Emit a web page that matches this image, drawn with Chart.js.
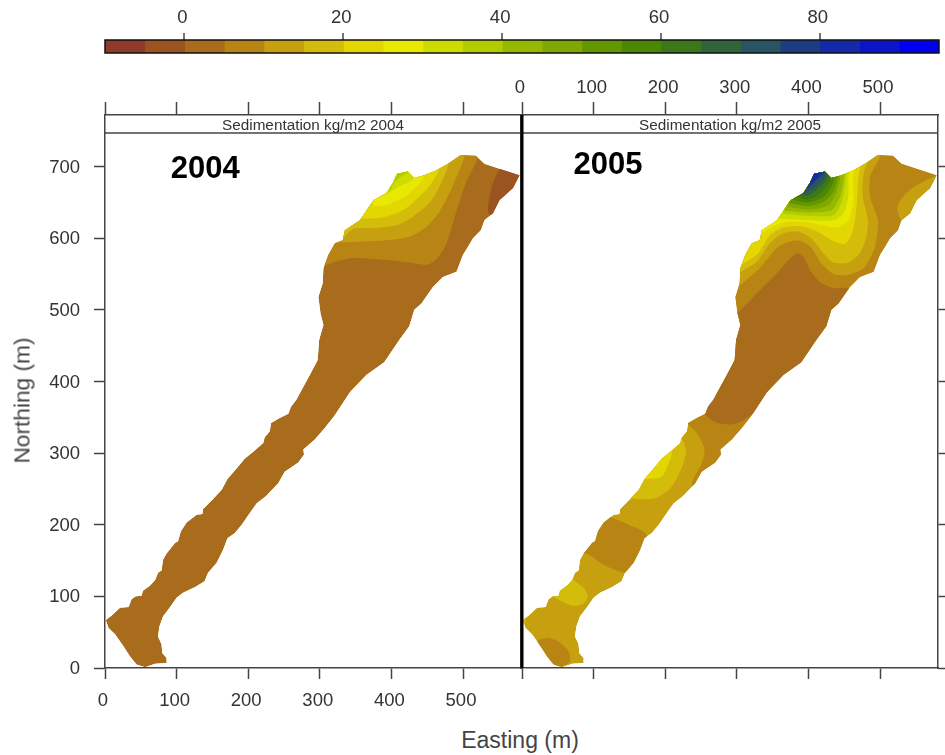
<!DOCTYPE html>
<html>
<head>
<meta charset="utf-8">
<script src="https://cdn.jsdelivr.net/npm/chart.js@4"></script>
<style>
    body { margin: 0; background: #fff; width: 945px; height: 755px; overflow: hidden; position: relative; }
    canvas { position: absolute; }
    #eastingTitle { position: absolute; left: 420px; width: 200px; top: 727px; text-align: center; font: 23px "Liberation Sans"; color: #444; }
    #northingTitle { position: absolute; left: -78px; width: 200px; top: 387px; text-align: center; font: 22.7px "Liberation Sans"; color: #444; transform: rotate(-90deg); }
</style>
</head>
<body>
<canvas id="colorBar" width="945" height="60" style="left:0;top:0"></canvas>
<canvas id="panel2004" width="530" height="658" style="left:0;top:60px"></canvas>
<canvas id="panel2005" width="445" height="658" style="left:500px;top:60px"></canvas>
<div id="northingTitle">Northing (m)</div>
<div id="eastingTitle">Easting (m)</div>
<script>
const eastingTicks = [0, 100, 200, 300, 400, 500];
const northingTicks = [0, 100, 200, 300, 400, 500, 600, 700];
const colorTicks = [0, 20, 40, 60, 80];
const colorLevels = [-10, -5, 0, 5, 10, 15, 20, 25, 30, 35, 40, 45, 50, 55, 60, 65, 70, 75, 80, 85, 90, 95];
const colorSteps = ['#8f3a2a', '#9b5420', '#a86c1c', '#b88514', '#c6a00f', '#d4bc0a', '#e4d600', '#e8e800',
    '#cddc00', '#b2cc00', '#96b800', '#80a800', '#649600', '#4b8700', '#3c7819', '#32643c',
    '#285564', '#1e3c82', '#1428aa', '#0a14c8', '#0000f0'];

// lake outline, easting / northing in metres
const lakeOutline = [[1, 67], [9, 73], [21, 84], [33, 85], [37, 96], [43, 100], [51, 101], [53, 108], [63, 115], [70, 123],
    [74, 133], [79, 136], [81, 151], [86, 160], [98, 175], [102, 177], [106, 191], [114, 203], [128, 214], [136, 215],
    [137, 222], [149, 234], [163, 249], [171, 264], [184, 279], [195, 292], [207, 302], [221, 314], [223, 322], [230, 330],
    [232, 342], [244, 349], [256, 355], [260, 365], [267, 374], [286, 409], [297, 430], [299, 458], [305, 479], [301, 495],
    [298, 518], [304, 537], [305, 558], [312, 577], [321, 593], [332, 597], [335, 611], [356, 625], [375, 653], [393, 663],
    [402, 677], [408, 690], [423, 693], [432, 684], [446, 688], [463, 695], [479, 704], [497, 716], [518, 715], [530, 704],
    [551, 697], [579, 688], [570, 670], [551, 653], [542, 635], [530, 625], [525, 611], [514, 600], [507, 588], [500, 577],
    [491, 553], [472, 546], [458, 532], [442, 509], [432, 500], [425, 477], [411, 458], [390, 427], [365, 409], [342, 385],
    [321, 353], [307, 335], [293, 319], [277, 305], [278, 298], [270, 287], [251, 274], [242, 258], [225, 240], [212, 230],
    [202, 216], [191, 200], [181, 188], [171, 181], [165, 165], [156, 147], [144, 133], [139, 121], [126, 113], [109, 105],
    [100, 98], [91, 85], [81, 72], [76, 58], [74, 44], [79, 33], [80, 21], [86, 14], [86, 7], [70, 6],
    [56, 1], [44, 5], [35, 16], [26, 30], [14, 47], [5, 56]];

// contour bands: colour step, then the contour line closed round the outside of the lake
const base2004 = 2;
const bands2004 = [
    [3, [[300, 560], [342, 572], [388, 570], [425, 566], [451, 563], [465, 573], [477, 593], [490, 635], [504, 677], [521, 714], [518, 737], [318, 737]]],
    [4, [[321, 594], [356, 595], [393, 597], [425, 602], [449, 616], [467, 637], [481, 663], [495, 695], [502, 714], [504, 737], [318, 737]]],
    [5, [[331, 598], [346, 613], [374, 614], [407, 618], [430, 630], [453, 649], [467, 672], [477, 695], [481, 707], [490, 737], [318, 737]]],
    [6, [[358, 627], [388, 629], [416, 639], [439, 658], [456, 677], [467, 697], [477, 737], [340, 737]]],
    [7, [[375, 645], [393, 646], [416, 656], [435, 672], [446, 688], [453, 737], [340, 737]]],
    [8, [[386, 658], [411, 672], [432, 684], [449, 737], [340, 737]]],
    [9, [[398, 665], [404, 678], [416, 688], [428, 695], [420, 710], [395, 710]]],
    [1, [[550, 696], [542, 677], [537, 658], [536, 634], [560, 625], [581, 667], [581, 704]]]
];

const base2005 = 4;
const bands2005 = [
    [5, [[0, 60], [5, 63], [5, 72], [0, 76]]],
    [3, [[19, 16], [21, 37], [35, 42], [51, 37], [65, 23], [67, 9], [51, 0]]],
    [5, [[42, 100], [70, 87], [86, 90], [92, 100], [86, 112], [72, 123], [60, 133], [37, 109]]],
    [3, [[79, 156], [90, 160], [116, 143], [144, 133], [163, 142], [174, 186], [149, 200], [123, 211], [112, 216], [84, 179]]],
    [5, [[144, 244], [151, 237], [186, 237], [209, 253], [225, 284], [229, 305], [221, 323], [200, 328]]],
    [6, [[167, 267], [174, 264], [195, 267], [204, 284], [209, 302], [195, 305]]],
    [3, [[222, 350], [230, 342], [244, 328], [255, 305], [251, 286], [237, 256], [251, 244], [293, 295], [345, 340], [580, 640], [580, 737], [300, 737], [240, 380]]],
    [2, [[245, 365], [253, 356], [270, 343], [293, 340], [311, 347], [330, 360], [360, 370], [470, 510], [456, 530], [437, 530], [416, 539], [402, 556], [393, 574], [384, 579], [370, 567], [356, 551], [323, 518], [302, 497], [280, 490], [240, 370]]],
    [4, [[579, 688], [551, 674], [532, 658], [524, 642], [530, 625], [546, 616], [581, 667]]],
    [4, [[302, 532], [332, 558], [358, 588], [384, 597], [402, 589], [418, 565], [435, 550], [456, 549], [477, 558], [493, 588], [497, 625], [486, 658], [486, 686], [493, 700], [500, 714], [504, 737], [320, 737], [285, 540]]],
    [5, [[306, 553], [328, 567], [346, 593], [365, 607], [386, 609], [404, 600], [421, 579], [435, 566], [456, 566], [472, 579], [481, 602], [483, 625], [476, 658], [476, 681], [479, 697], [483, 707], [490, 737], [320, 737], [290, 553]]],
    [6, [[307, 563], [330, 579], [346, 604], [365, 615], [388, 617], [411, 610], [437, 595], [451, 592], [460, 604], [465, 625], [468, 653], [469, 679], [472, 697], [477, 737], [320, 737], [290, 563]]],
    [7, [[337, 608], [360, 621], [393, 623], [421, 618], [439, 615], [456, 625], [463, 653], [462, 677], [464, 695], [467, 737], [320, 737], [320, 600]]],
    [8, [[358, 627], [398, 625], [435, 625], [449, 635], [456, 660], [456, 686], [458, 694], [463, 737], [340, 737]]],
    [9, [[365, 634], [402, 631], [435, 632], [446, 649], [451, 672], [453, 690], [458, 737], [340, 737]]],
    [10, [[367, 638], [402, 636], [432, 639], [444, 658], [449, 679], [450, 690], [455, 737], [340, 737]]],
    [11, [[370, 644], [402, 640], [428, 646], [439, 663], [444, 679], [445, 690], [450, 737], [340, 737]]],
    [12, [[372, 649], [400, 645], [423, 652], [436, 667], [442, 688], [447, 737], [340, 737]]],
    [13, [[377, 654], [397, 650], [420, 657], [432, 672], [437, 687], [442, 737], [340, 737]]],
    [14, [[381, 659], [397, 654], [415, 661], [428, 677], [432, 687], [437, 737], [340, 737]]],
    [15, [[385, 663], [397, 659], [411, 667], [424, 679], [429, 691], [434, 737], [340, 737]]],
    [16, [[388, 665], [395, 663], [409, 672], [421, 682], [426, 693], [431, 737], [340, 737]]],
    [17, [[392, 667], [400, 670], [409, 679], [418, 686], [423, 694], [428, 737], [340, 737]]],
    [18, [[398, 672], [407, 679], [414, 686], [418, 694], [423, 737], [340, 737]]]
];

const axisColor = '#444';
const tickFont = { family: 'Liberation Sans', size: 18.5 };

function toPoints(coords) {
    return coords.map(c => ({ x: c[0], y: c[1] }));
}

function fixedTicks(values) {
    return scale => { scale.ticks = values.map(v => ({ value: v })); };
}

function buildColorBar() {
    return new Chart('colorBar', {
        type: 'bar',
        data: {
            labels: ['level'],
            datasets: colorSteps.map((color, i) => ({
                data: [[colorLevels[i], colorLevels[i + 1]]],
                backgroundColor: color,
                borderWidth: 0,
                inflateAmount: 0.5,
                grouped: false,
                barPercentage: 1,
                categoryPercentage: 1
            }))
        },
        options: {
            indexAxis: 'y',
            responsive: false,
            animation: false,
            layout: { padding: { left: 105, right: 6, bottom: 7 } },
            plugins: { legend: { display: false }, tooltip: { enabled: false } },
            scales: {
                x: {
                    position: 'top',
                    min: -10,
                    max: 95,
                    afterBuildTicks: fixedTicks(colorTicks),
                    afterFit: scale => { scale.height = 40; },
                    // lineWidth 0 stops the bars leaving a gap at zero
                    grid: { drawOnChartArea: false, lineWidth: 0, tickLength: 7, tickColor: axisColor, tickWidth: 1.5 },
                    border: { display: false },
                    ticks: { font: tickFont, color: '#333', padding: 4, labelOffset: -2, maxRotation: 0 }
                },
                y: { display: false }
            }
        },
        plugins: [{
            id: 'barFrame',
            afterDraw(chart) {
                const { ctx, chartArea: a } = chart;
                ctx.strokeStyle = '#111';
                ctx.lineWidth = 1.5;
                ctx.strokeRect(a.left, a.top, a.right - a.left, a.bottom - a.top);
            }
        }]
    });
}

function buildPanel(canvasId, year, base, bands, opts) {
    const lake = {
        data: toPoints(lakeOutline),
        backgroundColor: colorSteps[base],
        fill: 'shape',
        showLine: true,
        borderWidth: 0,
        pointRadius: 0
    };
    const layers = bands.map(b => ({
        data: toPoints(b[1]),
        backgroundColor: colorSteps[b[0]],
        fill: 'shape',
        showLine: true,
        borderWidth: 0,
        pointRadius: 0,
        tension: 0.25
    }));

    const stripFloor = 747;

    return new Chart(canvasId, {
        type: 'scatter',
        // chart.js paints the first dataset last
        data: { datasets: [lake, ...layers].reverse() },
        options: {
            responsive: false,
            animation: false,
            plugins: { legend: { display: false }, tooltip: { enabled: false } },
            layout: { padding: { right: opts.rightPad } },
            scales: {
                x: {
                    min: 0,
                    max: 581,
                    afterBuildTicks: fixedTicks(eastingTicks),
                    afterFit: scale => { scale.height = 50; },
                    grid: { drawOnChartArea: false, tickLength: 11, tickColor: axisColor, tickWidth: 1.5 },
                    border: { color: axisColor, width: 1.5 },
                    ticks: { display: opts.bottomLabels, font: tickFont, color: '#333', padding: 11, labelOffset: -2, maxRotation: 0 }
                },
                xTop: {
                    axis: 'x',
                    position: 'top',
                    min: 0,
                    max: 581,
                    afterBuildTicks: fixedTicks(eastingTicks),
                    afterFit: scale => { scale.height = 55; },
                    grid: { drawOnChartArea: false, tickLength: 13, tickColor: axisColor, tickWidth: 1.5 },
                    border: { color: axisColor, width: 1.5 },
                    ticks: { display: !opts.bottomLabels, font: tickFont, color: '#333', padding: 3, labelOffset: -2, maxRotation: 0 }
                },
                y: {
                    min: 0,
                    max: 772,
                    afterBuildTicks: fixedTicks(northingTicks),
                    afterFit: scale => { scale.width = opts.leftWidth; },
                    grid: { drawOnChartArea: false, drawTicks: opts.leftLabels, tickLength: 11, tickColor: axisColor, tickWidth: 1.5 },
                    border: { color: axisColor, width: 1.5 },
                    ticks: { display: opts.leftLabels, font: tickFont, color: '#333', padding: 14, labelOffset: 1 }
                },
                yRight: {
                    axis: 'y',
                    position: 'right',
                    min: 0,
                    max: 772,
                    afterBuildTicks: fixedTicks(northingTicks),
                    afterFit: scale => { scale.width = opts.rightWidth; },
                    grid: { drawOnChartArea: false, drawTicks: !opts.leftLabels, tickLength: 7, tickColor: axisColor, tickWidth: 1.5 },
                    border: { color: axisColor, width: 1.5 },
                    ticks: { display: false }
                }
            }
        },
        plugins: [{
            id: 'lakeClip',
            beforeDatasetsDraw(chart) {
                const { ctx, scales: { x, y } } = chart;
                ctx.save();
                ctx.beginPath();
                lakeOutline.forEach((c, i) => {
                    const px = x.getPixelForValue(c[0]);
                    const py = y.getPixelForValue(c[1]);
                    if (i === 0) ctx.moveTo(px, py); else ctx.lineTo(px, py);
                });
                ctx.closePath();
                ctx.clip();
            },
            afterDatasetsDraw(chart) {
                chart.ctx.restore();
            },
            afterDraw(chart) {
                const { ctx, chartArea: a, scales: { x, y } } = chart;
                const floorY = y.getPixelForValue(stripFloor);
                ctx.save();
                ctx.strokeStyle = axisColor;
                ctx.lineWidth = 1.5;
                ctx.beginPath();
                ctx.moveTo(a.left, floorY);
                ctx.lineTo(a.right, floorY);
                ctx.stroke();
                ctx.fillStyle = '#333';
                ctx.textAlign = 'center';
                ctx.textBaseline = 'middle';
                ctx.font = '15.3px "Liberation Sans"';
                ctx.fillText('Sedimentation kg/m2 ' + year, (a.left + a.right) / 2, (a.top + floorY) / 2 + 2);

                ctx.fillStyle = '#000';
                ctx.font = 'bold 31px "Liberation Sans"';
                ctx.fillText(String(year), x.getPixelForValue(opts.yearAt[0]), y.getPixelForValue(opts.yearAt[1]));
                if (opts.thickEdge) {
                    ctx.strokeStyle = '#000';
                    ctx.lineWidth = 3;
                    ctx.beginPath();
                    ctx.moveTo(a.left, a.top);
                    ctx.lineTo(a.left, a.bottom);
                    ctx.stroke();
                }
                ctx.restore();
            }
        }]
    });
}

document.addEventListener('DOMContentLoaded', function () {
    buildColorBar();
    buildPanel('panel2004', 2004, base2004, bands2004, {
        leftLabels: true, bottomLabels: true, leftWidth: 105, rightWidth: 1, rightPad: 8, yearAt: [140, 696]
    });
    buildPanel('panel2005', 2005, base2005, bands2005, {
        leftLabels: false, bottomLabels: false, leftWidth: 22, rightWidth: 7, rightPad: 0, yearAt: [120, 701], thickEdge: true
    });
});
</script>
</body>
</html>
